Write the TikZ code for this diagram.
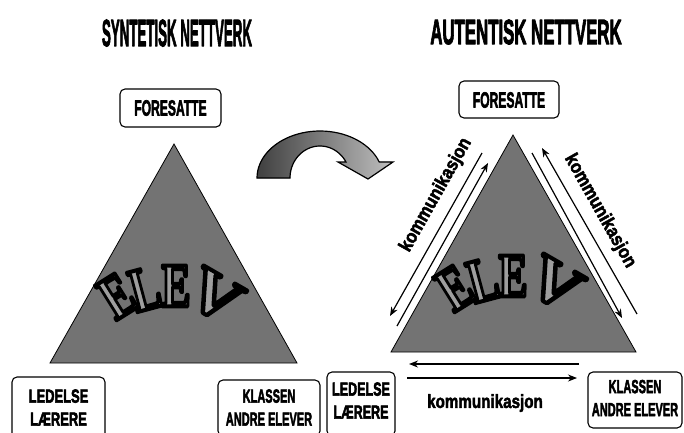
\documentclass[tikz,border=0pt]{standalone}
\usepackage{fontspec}
\usepackage{graphicx}
\usetikzlibrary{arrows.meta}
\newfontfamily\labfont{Liberation Sans}
\newfontfamily\elevfont{Liberation Serif}
\definecolor{trigray}{gray}{0.45}
\definecolor{letgray}{gray}{0.62}
\newcommand\nar[2]{\scalebox{#1}[1]{#2}}
\newcommand\outl[1]{\special{pdf:literal direct 2 Tr 4 w 0 G 1 j}#1\special{pdf:literal direct 0 Tr}}
\newcommand\heavy[2]{\special{pdf:literal direct 2 Tr #1 w 0 G 1 j}#2\special{pdf:literal direct 0 Tr}}
\newcommand\elevletter[4]{%
  \node[letter,text=letgray,rotate=#3] (#1) at (#2) {\outl{#4}};}
\begin{document}
\begin{tikzpicture}[x=1pt,y=-1pt,
  box/.style={draw=black, line width=1.1pt, rounded corners=5pt, fill=white, inner sep=0pt},
  lbl/.style={font=\labfont\bfseries\fontsize{19}{23}\selectfont, align=center, inner sep=0pt},
  lblbig/.style={font=\labfont\bfseries\fontsize{22}{24}\selectfont, inner sep=0pt},
  ttl/.style={font=\labfont\bfseries\fontsize{38}{40}\selectfont, inner sep=0pt},
  comm/.style={font=\labfont\bfseries\fontsize{19}{22}\selectfont, inner sep=0pt},
  commarrow/.style={line width=1.2pt, -{Stealth[length=9pt,width=7pt]}},
  tri/.style={fill=trigray, draw=black, line width=0.8pt},
  letter/.style={font=\elevfont\bfseries\fontsize{62}{62}\selectfont, inner sep=0pt},
  bigarrow/.style={draw=black, line width=1.2pt, left color=black!75, right color=black!25}]
\useasboundingbox (0,0) rectangle (684,432);
\clip (0,0) rectangle (684,432);

% titles
\node[ttl] (titleL) at (177,33) {\heavy{1.2}{\nar{0.35}{SYNTETISK NETTVERK}}};
\node[ttl,font=\labfont\bfseries\fontsize{35}{37}\selectfont] (titleR) at (526,32) {\heavy{1.2}{\nar{0.48}{AUTENTISK NETTVERK}}};

% FORESATTE boxes
\node[box, minimum width=101pt, minimum height=38pt] (forL) at (170.5,108) {};
\node[lblbig] (forLt) at (170.5,108) {\heavy{0.7}{\nar{0.55}{FORESATTE}}};
\node[box, minimum width=100pt, minimum height=37pt] (forR) at (509,99.5) {};
\node[lblbig] (forRt) at (509,100) {\heavy{0.7}{\nar{0.55}{FORESATTE}}};

% triangles
\coordinate (lA) at (174,144);
\coordinate (lB) at (50,363);
\coordinate (lC) at (297,363);
\filldraw[tri] (lA) -- (lB) -- (lC) -- cycle;
\coordinate (rA) at (513,135);
\coordinate (rB) at (391,352);
\coordinate (rC) at (636,352);
\filldraw[tri] (rA) -- (rB) -- (rC) -- cycle;

% ELEV (left)
\elevletter{le1}{117,296}{32}{\nar{0.7}{E}}
\elevletter{ll}{145,289}{15}{\nar{0.7}{L}}
\elevletter{le2}{176,286}{0}{\nar{0.7}{E}}
\elevletter{lv}{215,296}{-30}{\nar{1.15}{V}}
% ELEV (right)
\elevletter{re1}{455,288}{32}{\nar{0.7}{E}}
\elevletter{rl}{483,280}{15}{\nar{0.7}{L}}
\elevletter{re2}{513,276}{0}{\nar{0.7}{E}}
\elevletter{rv}{555,284}{-30}{\nar{1.15}{V}}

% curved arrow
\filldraw[bigarrow] plot[domain=180:20,samples=40] ({320+63*cos(\x)},{178-47*sin(\x)})
  -- (393,162) -- (368,179) -- (338,162)
  -- plot[domain=30:180,samples=40] ({320+30*cos(\x)},{178-32*sin(\x)}) -- cycle;

% communication arrows
\coordinate (lo1) at (482,153); \coordinate (lo2) at (390,316);
\coordinate (li1) at (397,326); \coordinate (li2) at (488,163);
\coordinate (ri1) at (532,153); \coordinate (ri2) at (622,318);
\coordinate (ro1) at (637,314); \coordinate (ro2) at (542,148);
\coordinate (bu1) at (579,364); \coordinate (bu2) at (409,364);
\coordinate (bl1) at (407,378); \coordinate (bl2) at (577,378);
\draw[commarrow] (lo1) -- (lo2);
\draw[commarrow] (li1) -- (li2);
\draw[commarrow] (ri1) -- (ri2);
\draw[commarrow] (ro1) -- (ro2);
\draw[commarrow] (bu1) -- (bu2);
\draw[commarrow] (bl1) -- (bl2);
\node[comm, rotate=60.6] (komL) at (436,195) {\heavy{0.5}{\nar{0.88}{kommunikasjon}}};
\node[comm, rotate=-60.6] (komR) at (600,211) {\heavy{0.5}{\nar{0.88}{kommunikasjon}}};
\node[comm] (komB) at (485,403) {\heavy{0.5}{\nar{0.8}{kommunikasjon}}};

% bottom boxes
\node[box, minimum width=93pt, minimum height=63pt] (ledL) at (58.5,408.5) {};
\node[lbl] (ledLt) at (58.5,407.5) {\heavy{0.6}{\nar{0.68}{LEDELSE}}\\\heavy{0.6}{\nar{0.68}{LÆRERE}}};
\node[box, minimum width=102pt, minimum height=56pt] (klaL) at (269,408) {};
\node[lbl] (klaLt) at (269,407.5) {\heavy{0.6}{\nar{0.58}{KLASSEN}}\\\heavy{0.6}{\nar{0.58}{ANDRE ELEVER}}};
\node[box, minimum width=68pt, minimum height=64pt] (ledR) at (361,404) {};
\node[lbl] (ledRt) at (361,400.5) {\heavy{0.6}{\nar{0.66}{LEDELSE}}\\\heavy{0.6}{\nar{0.66}{LÆRERE}}};
\node[box, minimum width=94pt, minimum height=56pt] (klaR) at (635,400) {};
\node[lbl] (klaRt) at (635,398) {\heavy{0.6}{\nar{0.58}{KLASSEN}}\\\heavy{0.6}{\nar{0.58}{ANDRE ELEVER}}};
\end{tikzpicture}
\end{document}
